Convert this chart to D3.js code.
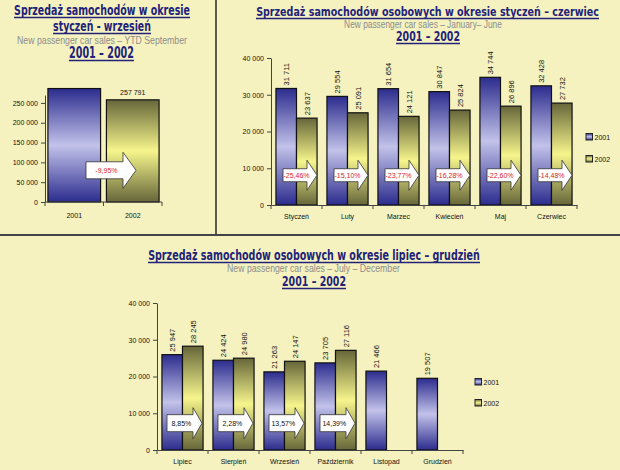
<!DOCTYPE html>
<html><head><meta charset="utf-8">
<script src="https://cdn.jsdelivr.net/npm/d3@7"></script>
<style>
body{margin:0;background:#f5f2bf}
svg{display:block}
</style>
</head><body><svg id="c" width="620" height="470"></svg>
<script>
// ---------- DATA ----------
const ytdYears = ["2001", "2002"];
const ytdValues = [286275, 257791];
const ytdChange = "-9,95%";
const ytdTicks = [0, 50000, 100000, 150000, 200000, 250000];

const h1Months = ["Styczeń", "Luty", "Marzec", "Kwiecień", "Maj", "Czerwiec"];
const h1Sales2001 = [31711, 29554, 31654, 30847, 34744, 32428];
const h1Sales2002 = [23637, 25091, 24121, 25824, 26896, 27732];
const h1Change = ["-25,46%", "-15,10%", "-23,77%", "-16,28%", "-22,60%", "-14,48%"];

const h2Months = ["Lipiec", "Sierpień", "Wrzesień", "Październik", "Listopad", "Grudzień"];
const h2Sales2001 = [25947, 24424, 21263, 23705, 21466, 19507];
const h2Sales2002 = [28245, 24980, 24147, 27116, null, null];
const h2Change = ["8,85%", "2,28%", "13,57%", "14,39%", null, null];

const monthTicks = [0, 10000, 20000, 30000, 40000];
const seriesNames = ["2001", "2002"];

// ---------- SETUP ----------
const loc = d3.formatLocale({decimal: ",", thousands: " ", grouping: [3], currency: ["", ""]});
const fmt = loc.format(",d");
const svg = d3.select("#c");
const FONT = '"Liberation Sans", Arial, sans-serif';
const NAVY = "#22227a";

const defs = svg.append("defs");
function grad(id, dark, light) {
  const g = defs.append("linearGradient").attr("id", id)
    .attr("x1", 0).attr("y1", 0).attr("x2", 0).attr("y2", 1);
  g.append("stop").attr("offset", "0%").attr("stop-color", dark);
  g.append("stop").attr("offset", "50%").attr("stop-color", light);
  g.append("stop").attr("offset", "100%").attr("stop-color", dark);
}
grad("gBlue", "#2c2c8e", "#c2c2ea");
grad("gOlive", "#66663a", "#f6f58c");
const fills = ["url(#gBlue)", "url(#gOlive)"];

// background + dividers
svg.append("rect").attr("width", 620).attr("height", 470).attr("fill", "#f5f2bf");
svg.append("line").attr("x1", 216).attr("x2", 216).attr("y1", 0).attr("y2", 235)
  .attr("stroke", "#333").attr("stroke-width", 1.6);
svg.append("line").attr("x1", 0).attr("x2", 620).attr("y1", 235).attr("y2", 235)
  .attr("stroke", "#444").attr("stroke-width", 2);

// ---------- TITLES (horizontally scaled to the reference width) ----------
function fitText(sel, cx, y, w) {
  const nat = sel.node().getComputedTextLength();
  const k = w / nat;
  sel.attr("x", 0).attr("y", 0).attr("transform", `translate(${cx},${y}) scale(${k},1)`);
}
function title(txt, cx, y, w, size) {
  const t = svg.append("text").attr("text-anchor", "middle")
    .attr("font-family", '"Liberation Sans Narrow","DejaVu Sans Condensed",' + FONT)
    .attr("font-weight", "bold").attr("font-size", size).attr("fill", NAVY).text(txt);
  fitText(t, cx, y, w);
  svg.append("line").attr("x1", cx - w / 2).attr("x2", cx + w / 2)
    .attr("y1", y + 2.5).attr("y2", y + 2.5).attr("stroke", NAVY).attr("stroke-width", 1.5);
}
function subtitle(txt, cx, y, w) {
  const t = svg.append("text").attr("text-anchor", "middle")
    .attr("font-family", FONT).attr("font-size", 10).attr("fill", "#8c8c8c").text(txt);
  fitText(t, cx, y, w);
}
title("Sprzedaż samochodów w okresie", 102, 15, 176, 14);
title("styczeń - wrzesień", 102, 31, 98, 14);
subtitle("New passenger car sales – YTD September", 102, 43.5, 170);
title("2001 – 2002", 101.5, 58, 65, 15);

title("Sprzedaż samochodów osobowych w okresie styczeń – czerwiec", 427.5, 16, 343, 13);
subtitle("New passenger car sales – January–  June", 423, 27.5, 158);
title("2001 – 2002", 428, 41, 64, 14);

title("Sprzedaż samochodów osobowych w okresie lipiec – grudzień", 314, 260, 332, 14);
subtitle("New passenger car sales – July – December", 313.5, 272, 173);
title("2001 – 2002", 314, 286, 64, 14);

// ---------- helpers ----------
function yAxis(g, y, ticks, x0) {
  const ax = g.append("g").attr("transform", `translate(${x0},0)`)
    .call(d3.axisLeft(y).tickValues(ticks).tickFormat(fmt).tickSize(4).tickSizeOuter(0).tickPadding(3));
  ax.select(".domain").attr("stroke", "#444");
  ax.selectAll(".tick line").attr("stroke", "#444");
  ax.selectAll("text").attr("font-family", FONT).attr("font-size", 7).attr("fill", "#111");
}
function xAxis(g, x, y0) {
  const ax = g.append("g").attr("transform", `translate(0,${y0})`)
    .call(d3.axisBottom(x).tickSize(0).tickSizeOuter(0).tickPadding(9));
  ax.select(".domain").attr("stroke", "#444");
  ax.selectAll("text").attr("font-family", FONT).attr("font-size", 7).attr("fill", "#111");
  const bounds = x.domain().map(d => x(d)).concat([x.range()[1]]);
  g.selectAll(null).data(bounds).enter().append("line")
    .attr("x1", d => d).attr("x2", d => d).attr("y1", y0).attr("y2", y0 + 4)
    .attr("stroke", "#444");
}
function arrow(g, bx, cy, wb, wh, hb, hh, label, color) {
  const p = d3.path();
  p.moveTo(bx, cy - hb); p.lineTo(bx + wb, cy - hb); p.lineTo(bx + wb, cy - hh);
  p.lineTo(bx + wb + wh, cy); p.lineTo(bx + wb, cy + hh); p.lineTo(bx + wb, cy + hb);
  p.lineTo(bx, cy + hb); p.closePath();
  g.append("path").attr("d", p.toString()).attr("fill", "#fff")
    .attr("stroke", "#333").attr("stroke-width", 0.8);
  g.append("text").attr("x", bx + (wb + wh * 0.3) / 2).attr("y", cy + 2.5)
    .attr("text-anchor", "middle").attr("font-family", FONT).attr("font-size", 7)
    .attr("fill", color).text(label);
}
function legend(g, x, ys) {
  seriesNames.forEach((s, i) => {
    g.append("rect").attr("x", x).attr("y", ys[i] - 3.5).attr("width", 6.5).attr("height", 6.5)
      .attr("fill", fills[i]).attr("stroke", "#222").attr("stroke-width", 1);
    g.append("text").attr("x", x + 8.5).attr("y", ys[i] + 2.5).attr("font-family", FONT)
      .attr("font-size", 7).attr("fill", "#111").text(s);
  });
}

// ---------- YTD chart ----------
{
  const g = svg.append("g");
  const y = d3.scaleLinear().domain([0, 270000]).range([202, 95]);
  const x = d3.scaleBand().domain(ytdYears).range([45, 162]).paddingInner(0.1).paddingOuter(0.05);
  g.selectAll(".b").data(ytdValues).enter().append("rect")
    .attr("x", (d, i) => x(ytdYears[i])).attr("width", x.bandwidth())
    .attr("y", d => y(d)).attr("height", d => y(0) - y(d))
    .attr("fill", (d, i) => fills[i]).attr("stroke", "#111").attr("stroke-width", 1.2);
  g.append("text").attr("x", x(ytdYears[1]) + x.bandwidth() / 2).attr("y", y(ytdValues[1]) - 5)
    .attr("text-anchor", "middle").attr("font-family", FONT).attr("font-size", 7).attr("fill", "#111")
    .text(fmt(ytdValues[1]));
  yAxis(g, y, ytdTicks, 45);
  const s = x.step();
  const bounds = [45, 45 + s, 162];
  g.append("line").attr("x1", 45).attr("x2", 162).attr("y1", 202).attr("y2", 202).attr("stroke", "#444");
  g.selectAll(null).data(bounds).enter().append("line")
    .attr("x1", d => d).attr("x2", d => d).attr("y1", 202).attr("y2", 206).attr("stroke", "#444");
  g.selectAll(null).data(ytdYears).enter().append("text")
    .attr("x", (d, i) => 45 + s * (i + 0.5)).attr("y", 218).attr("text-anchor", "middle")
    .attr("font-family", FONT).attr("font-size", 7).attr("fill", "#111").text(d => d);
  arrow(g, 86, y(80000), 37, 13, 8.5, 18, ytdChange, "#e0202a");
}

// ---------- monthly charts ----------
function monthChart(cfg) {
  const g = svg.append("g");
  const y = d3.scaleLinear().domain([0, 40000]).range([cfg.y0, cfg.y1]);
  const x = d3.scaleBand().domain(cfg.months).range([cfg.x0, cfg.x1]);
  const xi = d3.scaleBand().domain(seriesNames).range([0, x.bandwidth()]).paddingInner(0).paddingOuter(0.24);
  const rows = cfg.months.map((m, i) => ({m, v: [cfg.s1[i], cfg.s2[i]]}));
  const grp = g.selectAll(".grp").data(rows).enter().append("g")
    .attr("transform", d => `translate(${x(d.m)},0)`);
  const cells = grp.selectAll("g.c").data(d => d.v.map((v, k) => ({v, k})).filter(o => o.v != null))
    .enter().append("g");
  cells.append("rect")
    .attr("x", d => xi(seriesNames[d.k])).attr("width", xi.bandwidth())
    .attr("y", d => y(d.v)).attr("height", d => y(0) - y(d.v))
    .attr("fill", d => fills[d.k]).attr("stroke", "#111").attr("stroke-width", 1.2);
  cells.append("text")
    .attr("transform", d => `translate(${xi(seriesNames[d.k]) + xi.bandwidth() / 2 + 2.8},${y(d.v) - 3}) rotate(-90)`)
    .attr("font-family", FONT).attr("font-size", 7.5).attr("fill", "#111").text(d => fmt(d.v));
  yAxis(g, y, monthTicks, cfg.x0);
  xAxis(g, x, cfg.y0);
  cfg.changes.forEach((c, i) => {
    if (c == null) return;
    arrow(g, x(cfg.months[i]) + cfg.ax, y(cfg.arrowVal), cfg.wb, cfg.wh, cfg.hb, cfg.hh, c, cfg.color);
  });
  legend(g, cfg.legX, cfg.legY);
}
monthChart({months: h1Months, s1: h1Sales2001, s2: h1Sales2002, changes: h1Change,
  x0: 271, x1: 577, y0: 205, y1: 58, ax: 12, wb: 24, wh: 10, hb: 6.5, hh: 15, arrowVal: 8100,
  color: "#e0202a", legX: 586, legY: [137, 159]});
monthChart({months: h2Months, s1: h2Sales2001, s2: h2Sales2002, changes: h2Change,
  x0: 157, x1: 463, y0: 450, y1: 303, ax: 10, wb: 26, wh: 9, hb: 8.5, hh: 15.5, arrowVal: 7300,
  color: "#111", legX: 475, legY: [382, 403]});
</script>
</body></html>
